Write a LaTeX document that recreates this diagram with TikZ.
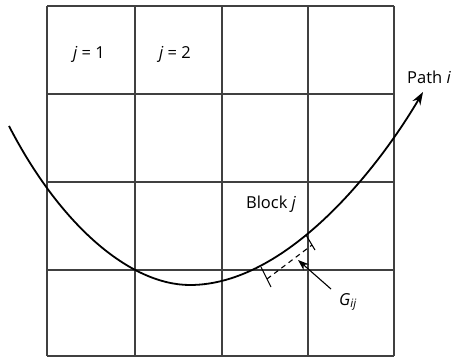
\documentclass[tikz,border=0pt]{standalone}
\usepackage{fontspec}
\setmainfont{Open Sans}
\usetikzlibrary{arrows.meta}
\begin{document}
\begin{tikzpicture}[x=1pt,y=-1pt,
  gridline/.style={draw=black!75,line width=1.3pt},
  pathline/.style={draw=black,line width=1.8pt},
  tickline/.style={draw=black,line width=1.1pt},
  lbl/.style={font=\fontsize{16.5}{19}\selectfont,inner sep=0pt}]
\useasboundingbox (0,0) rectangle (452,358);
% grid
\foreach \x in {47,135,222,308,394} \draw[gridline] (\x,6) -- (\x,356);
\foreach \y in {6,94,182,270,356} \draw[gridline] (47,\y) -- (394,\y);
% labels
\node[lbl] (j1) at (89,54) {\itshape j\upshape\ = 1};
\node[lbl] (j2) at (175,54) {\itshape j\upshape\ = 2};
\node[lbl] (blk) at (271,204) {Block \itshape j};
\node[lbl] (path) at (429,77) {Path \itshape i};
\node[lbl] (g) at (348,302) {\itshape G\textsubscript{ij}};
% path i
\coordinate (p0) at (9,126);
\coordinate (pm) at (190,285);
\coordinate (p1) at (423,92);
\draw[pathline,-{Stealth[length=13pt,width=9pt]}] (p0) .. controls (60,225) and (130,285) .. (pm)
  .. controls (285,285) and (376,172) .. (p1);
% segment marks
\coordinate (t1a) at (261,267);
\coordinate (t1b) at (271,287);
\coordinate (t2a) at (306,235);
\coordinate (t2b) at (315,250);
\coordinate (d1) at (267,279);
\coordinate (d2) at (312,245);
\coordinate (gtip) at (298,260);
\draw[tickline] (t1a) -- (t1b);
\draw[tickline] (t2a) -- (t2b);
\draw[tickline,dashed,dash pattern=on 5pt off 4pt] (d1) -- (d2);
\coordinate (gs) at (331,289);
\draw[tickline,-{Stealth[length=11pt,width=8pt]}] (gs) -- (gtip);
\end{tikzpicture}
\end{document}
